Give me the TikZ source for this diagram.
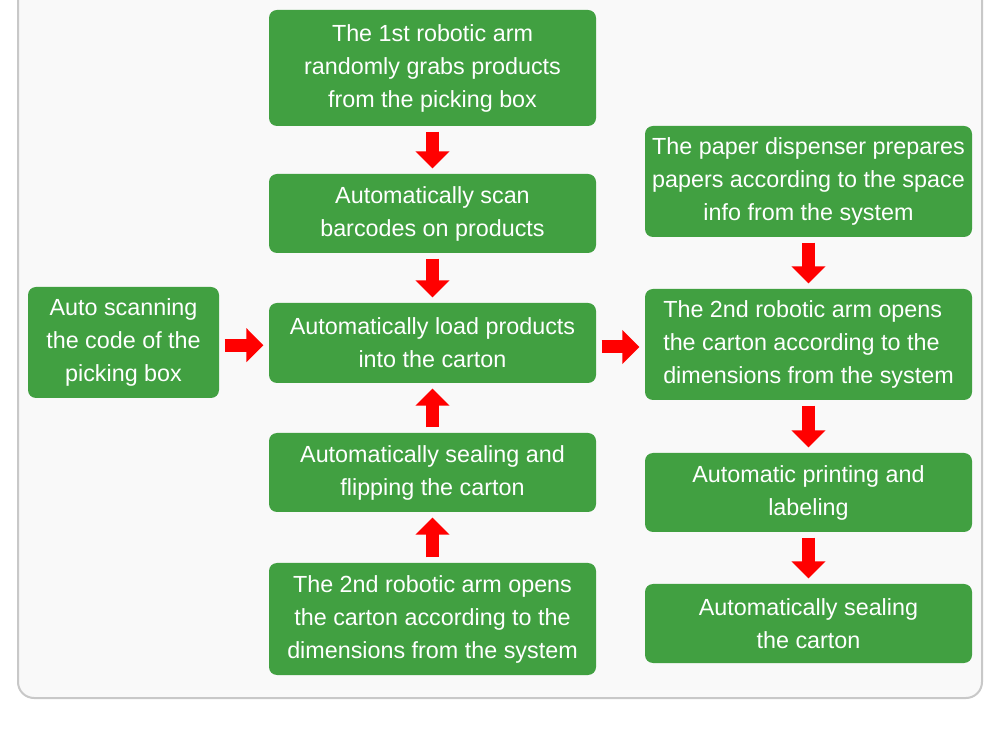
\documentclass[tikz,border=0pt]{standalone}
\usepackage{fontspec}
\setmainfont{Liberation Sans}
\usetikzlibrary{arrows.meta}
\definecolor{boxgreen}{RGB}{65,160,65}
\definecolor{framegray}{RGB}{200,200,200}
\definecolor{panelgray}{RGB}{249,249,249}
\begin{document}
\begin{tikzpicture}[x=0.75pt,y=-0.75pt,
    greenbox/.style={fill=boxgreen, text=white, rounded corners=6pt, align=center,
      inner sep=0pt, minimum width=245.25pt, font=\fontsize{17.5}{24.75}\selectfont},
    bigarrow/.style={draw=red, line width=9.75pt,
      -{Triangle[width=24.75pt,length=12.75pt]}, shorten <=4pt, shorten >=4pt}]
        \useasboundingbox (0,0) rectangle (1000,737);
        \clip (0,0) rectangle (1000,737);
        \fill[white] (0,0) rectangle (1000,737);
        \draw[framegray, fill=panelgray, line width=1.5pt, rounded corners=12pt] (18,-30) rectangle (982,698);
        % middle column
        \node[greenbox, minimum height=87pt] (pick) at (432.5,68) {The 1st robotic arm\\randomly grabs products\\from the picking box};
        \node[greenbox, minimum height=59.25pt] (scanbar) at (432.5,213.5) {Automatically scan\\barcodes on products};
        \node[greenbox, minimum height=60pt] (load) at (432.5,343) {Automatically load products\\into the carton};
        \node[greenbox, minimum height=59.25pt] (flip) at (432.5,472.5) {Automatically sealing and\\flipping the carton};
        \node[greenbox, minimum height=84pt] (openone) at (432.5,619) {The 2nd robotic arm opens\\the carton according to the\\dimensions from the system};
        % left box
        \node[greenbox, minimum width=143.25pt, minimum height=83.25pt] (autoscan) at (123.5,342.5) {Auto scanning\\the code of the\\picking box};
        % right column
        \node[greenbox, minimum height=83.25pt] (paper) at (808.5,181.5) {The paper dispenser prepares\\papers according to the space\\info from the system};
        \node[greenbox, align=left, minimum height=83.25pt] (opentwo) at (808.5,344.5) {The 2nd robotic arm opens\\the carton according to the\\dimensions from the system};
        \node[greenbox, minimum height=59.25pt] (label) at (808.5,492.5) {Automatic printing and\\labeling};
        \node[greenbox, minimum height=59.25pt] (seal) at (808.5,623.5) {Automatically sealing\\the carton};
        % arrows
        \draw[bigarrow] (pick) -- (scanbar);
        \draw[bigarrow] (scanbar) -- (load);
        \draw[bigarrow] (flip) -- (load);
        \draw[bigarrow] (openone) -- (flip);
        \draw[bigarrow] ([yshift=-2pt]autoscan.east) -- ([yshift=-2pt]autoscan.east -| load.west);
        \draw[bigarrow] ([yshift=-3pt]load.east) -- ([yshift=-3pt]load.east -| opentwo.west);
        \draw[bigarrow] (paper) -- (opentwo);
        \draw[bigarrow] (opentwo) -- (label);
        \draw[bigarrow] (label) -- (seal);
\end{tikzpicture}
\end{document}
